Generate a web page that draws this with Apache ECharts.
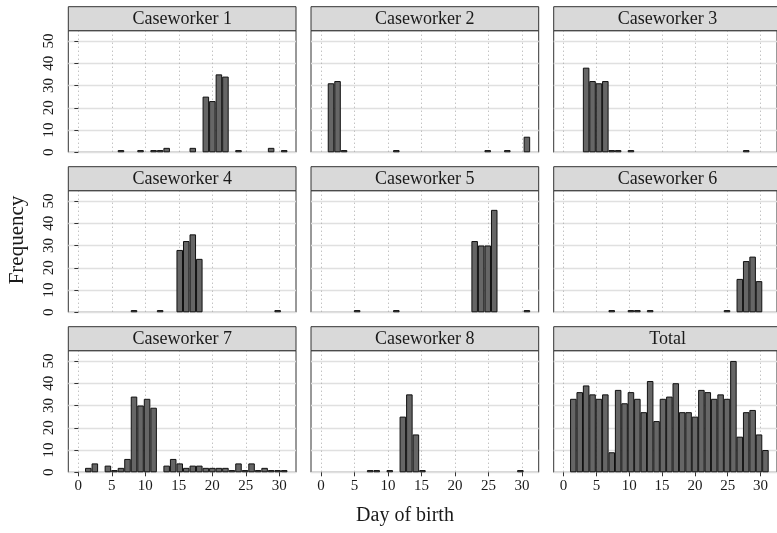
<!DOCTYPE html>
<html>
<head>
<meta charset="utf-8">
<script src="https://cdn.jsdelivr.net/npm/echarts@6/dist/echarts.min.js"></script>
<style>
html, body { margin: 0; padding: 0; background: #fff; }
#main { width: 777px; height: 533px; }
</style>
</head>
<body>
<div id="main"></div>
<script>
// 数据: 每天的出生人数 (day of birth 1..31)
var days = [1, 2, 3, 4, 5, 6, 7, 8, 9, 10, 11, 12, 13, 14, 15, 16, 17, 18, 19, 20, 21, 22, 23, 24, 25, 26, 27, 28, 29, 30, 31];
var panelNames = ['Caseworker 1', 'Caseworker 2', 'Caseworker 3', 'Caseworker 4', 'Caseworker 5', 'Caseworker 6', 'Caseworker 7', 'Caseworker 8', 'Total'];
var cw1 = [0, 0, 0, 0, 0, 1, 0, 0, 1, 0, 1, 1, 2, 0, 0, 0, 2, 0, 25, 23, 35, 34, 0, 1, 0, 0, 0, 0, 2, 0, 1];
var cw2 = [31, 32, 1, 0, 0, 0, 0, 0, 0, 0, 1, 0, 0, 0, 0, 0, 0, 0, 0, 0, 0, 0, 0, 0, 1, 0, 0, 1, 0, 0, 7];
var cw3 = [0, 0, 38, 32, 31, 32, 1, 1, 0, 1, 0, 0, 0, 0, 0, 0, 0, 0, 0, 0, 0, 0, 0, 0, 0, 0, 0, 1, 0, 0, 0];
var cw4 = [0, 0, 0, 0, 0, 0, 0, 1, 0, 0, 0, 1, 0, 0, 28, 32, 35, 24, 0, 0, 0, 0, 0, 0, 0, 0, 0, 0, 0, 1, 0];
var cw5 = [0, 0, 0, 0, 1, 0, 0, 0, 0, 0, 1, 0, 0, 0, 0, 0, 0, 0, 0, 0, 0, 0, 32, 30, 30, 46, 0, 0, 0, 0, 1];
var cw6 = [0, 0, 0, 0, 0, 0, 1, 0, 0, 1, 1, 0, 1, 0, 0, 0, 0, 0, 0, 0, 0, 0, 0, 0, 1, 0, 15, 23, 25, 14, 0];
var cw7 = [2, 4, 0, 3, 1, 2, 6, 34, 30, 33, 29, 0, 3, 6, 4, 2, 3, 3, 2, 2, 2, 2, 1, 4, 1, 4, 1, 2, 1, 1, 1];
var cw8 = [0, 0, 0, 0, 0, 0, 1, 1, 0, 1, 0, 25, 35, 17, 1, 0, 0, 0, 0, 0, 0, 0, 0, 0, 0, 0, 0, 0, 0, 1, 0];
var total = [33, 36, 39, 35, 33, 35, 9, 37, 31, 36, 33, 27, 41, 23, 33, 34, 40, 27, 27, 25, 37, 36, 33, 35, 33, 50, 16, 27, 28, 17, 10];
var xTicks = [0, 5, 10, 15, 20, 25, 30];
var yTicks = [0, 10, 20, 30, 40, 50];

var myChart = echarts.init(document.getElementById('main'));
var counts = [cw1, cw2, cw3, cw4, cw5, cw6, cw7, cw8, total];

// 布局
var colLeft = [68.3, 311, 553.7];
var rowTop = [30.7, 190.7, 350.7];
var panelW = 227.7, panelH = 121.6, stripH = 24;
var binWidth = 0.975;
var serif = '"Liberation Serif", "DejaVu Serif", serif';
function binCenter(d) { return 1 + (d - 0.5) * binWidth; }

var grids = [], xAxes = [], yAxes = [], series = [], graphics = [];
panelNames.forEach(function (name, i) {
    var r = Math.floor(i / 3), c = i % 3;
    grids.push({
        left: colLeft[c], top: rowTop[r], width: panelW, height: panelH,
        show: true, borderColor: '#333', borderWidth: 1, backgroundColor: '#fff'
    });
    var bottomRow = r === 2, leftCol = c === 0;
    xAxes.push({
        gridIndex: i, type: 'value', min: -1.5, max: 32.5, splitNumber: 7,
        axisLine: { show: false },
        axisTick: { show: bottomRow, customValues: xTicks, length: 4, lineStyle: { color: '#333' } },
        axisLabel: { show: bottomRow, customValues: xTicks, fontFamily: serif, fontSize: 15, color: '#1a1a1a', margin: 6 },
        splitLine: { show: true, lineStyle: { type: [1, 3], color: '#a8a8a8', width: 1 } }
    });
    yAxes.push({
        gridIndex: i, type: 'value', min: 0, max: 54.6, splitNumber: 5,
        axisLine: { show: false },
        axisTick: { show: leftCol, customValues: yTicks, length: 4, lineStyle: { color: '#333' } },
        axisLabel: { show: leftCol, customValues: yTicks, rotate: 90, fontFamily: serif, fontSize: 15, color: '#1a1a1a', margin: 12 },
        splitLine: { show: true, lineStyle: { color: '#e0e0e0', width: 1.3 } }
    });
    series.push({
        type: 'bar', xAxisIndex: i, yAxisIndex: i, silent: true,
        barWidth: binWidth * panelW / 34,
        itemStyle: { color: '#666666', borderColor: '#111', borderWidth: 1 },
        data: days.filter(function (d, k) { return counts[i][k] > 0; })
                  .map(function (d) { return [binCenter(d), counts[i][d - 1]]; })
    });
    // 分面标题条
    graphics.push({
        type: 'rect', shape: { x: colLeft[c], y: rowTop[r] - stripH, width: panelW, height: stripH },
        style: { fill: '#d9d9d9', stroke: '#333', lineWidth: 1 }, z: 10
    });
    graphics.push({
        type: 'text', x: colLeft[c] + panelW / 2, y: rowTop[r] - stripH / 2 + 1, z: 11,
        style: { text: name, align: 'center', verticalAlign: 'middle', fontFamily: serif, fontSize: 18, fill: '#1a1a1a' }
    });
});

graphics.push({
    type: 'text', x: 17, y: 240, rotation: Math.PI / 2,
    style: { text: 'Frequency', align: 'center', verticalAlign: 'middle', fontFamily: serif, fontSize: 21, fill: '#1a1a1a' }
});
graphics.push({
    type: 'text', x: 405, y: 516,
    style: { text: 'Day of birth', align: 'center', verticalAlign: 'middle', fontFamily: serif, fontSize: 20, fill: '#1a1a1a' }
});

myChart.setOption({
    animation: false,
    grid: grids,
    xAxis: xAxes,
    yAxis: yAxes,
    series: series,
    graphic: graphics
});
</script>
</body>
</html>
